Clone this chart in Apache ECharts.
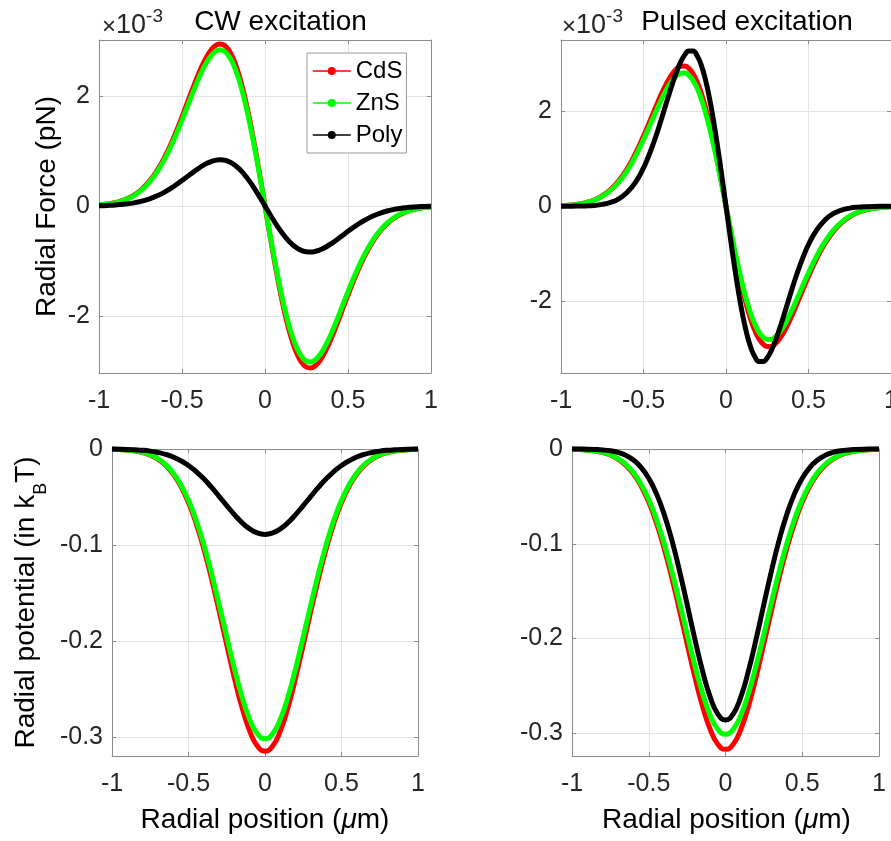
<!DOCTYPE html>
<html>
<head>
<meta charset="utf-8">
<script src="https://cdn.jsdelivr.net/npm/echarts@6/dist/echarts.min.js"></script>
<style>
html,body{margin:0;padding:0;background:#fff;}
#chart{width:891px;height:841px;}
</style>
</head>
<body>
<div id="chart"></div>
<script>
// Radial position (um) for the force curves (finer around the peaks)
const xPosForce = [-1,-0.95,-0.9,-0.85,-0.8,-0.75,-0.7,-0.65,-0.6,-0.55,-0.5,-0.475,-0.45,-0.425,-0.4,-0.375,-0.35,-0.325,-0.3,-0.275,-0.25,-0.225,-0.2,-0.175,-0.15,-0.125,-0.1,-0.075,-0.05,-0.025,0,0.025,0.05,0.075,0.1,0.125,0.15,0.175,0.2,0.225,0.25,0.275,0.3,0.325,0.35,0.375,0.4,0.425,0.45,0.475,0.5,0.55,0.6,0.65,0.7,0.75,0.8,0.85,0.9,0.95,1];
// Radial position (um) for the potential curves
const xPosPot = [-1,-0.95,-0.9,-0.85,-0.8,-0.75,-0.7,-0.65,-0.6,-0.55,-0.5,-0.45,-0.4,-0.35,-0.3,-0.25,-0.2,-0.15,-0.1,-0.05,0,0.05,0.1,0.15,0.2,0.25,0.3,0.35,0.4,0.45,0.5,0.55,0.6,0.65,0.7,0.75,0.8,0.85,0.9,0.95,1];

// CW excitation: radial force (x1e-3 pN)
const cwForceCdS = [0.019,0.035,0.063,0.108,0.179,0.285,0.438,0.646,0.915,1.245,1.621,1.820,2.021,2.218,2.405,2.575,2.721,2.837,2.915,2.949,2.933,2.864,2.738,2.555,2.316,2.023,1.682,1.300,0.885,0.448,0,-0.448,-0.885,-1.300,-1.682,-2.023,-2.316,-2.555,-2.738,-2.864,-2.933,-2.949,-2.915,-2.837,-2.721,-2.575,-2.405,-2.218,-2.021,-1.820,-1.621,-1.245,-0.915,-0.646,-0.438,-0.285,-0.179,-0.108,-0.063,-0.035,-0.019];
const cwForceZnS = [0.018,0.034,0.060,0.104,0.172,0.275,0.421,0.622,0.881,1.198,1.561,1.753,1.946,2.135,2.315,2.479,2.620,2.732,2.806,2.839,2.824,2.757,2.636,2.460,2.229,1.947,1.619,1.251,0.852,0.432,0,-0.432,-0.852,-1.251,-1.619,-1.947,-2.229,-2.460,-2.636,-2.757,-2.824,-2.839,-2.806,-2.732,-2.620,-2.479,-2.315,-2.135,-1.946,-1.753,-1.561,-1.198,-0.881,-0.622,-0.421,-0.275,-0.172,-0.104,-0.060,-0.034,-0.018];
const cwForcePoly = [0.005,0.010,0.018,0.031,0.051,0.081,0.125,0.184,0.261,0.354,0.462,0.518,0.576,0.632,0.685,0.733,0.775,0.808,0.830,0.840,0.835,0.816,0.780,0.728,0.659,0.576,0.479,0.370,0.252,0.128,0,-0.128,-0.252,-0.370,-0.479,-0.576,-0.659,-0.728,-0.780,-0.816,-0.835,-0.840,-0.830,-0.808,-0.775,-0.733,-0.685,-0.632,-0.576,-0.518,-0.462,-0.354,-0.261,-0.184,-0.125,-0.081,-0.051,-0.031,-0.018,-0.010,-0.005];

// Pulsed excitation: radial force (x1e-3 pN)
const puForceCdS = [0.012,0.022,0.042,0.076,0.132,0.219,0.349,0.534,0.783,1.098,1.472,1.674,1.882,2.090,2.292,2.479,2.646,2.783,2.884,2.941,2.946,2.895,2.783,2.610,2.376,2.083,1.737,1.346,0.918,0.466,0,-0.466,-0.918,-1.346,-1.737,-2.083,-2.376,-2.610,-2.783,-2.895,-2.946,-2.941,-2.884,-2.783,-2.646,-2.479,-2.292,-2.090,-1.882,-1.674,-1.472,-1.098,-0.783,-0.534,-0.349,-0.219,-0.132,-0.076,-0.042,-0.022,-0.012];
const puForceZnS = [0.011,0.021,0.040,0.072,0.125,0.208,0.332,0.507,0.743,1.042,1.397,1.589,1.787,1.984,2.175,2.353,2.512,2.642,2.738,2.791,2.796,2.747,2.642,2.477,2.255,1.977,1.649,1.277,0.872,0.442,0,-0.442,-0.872,-1.277,-1.649,-1.977,-2.255,-2.477,-2.642,-2.747,-2.796,-2.791,-2.738,-2.642,-2.512,-2.353,-2.175,-1.984,-1.787,-1.589,-1.397,-1.042,-0.743,-0.507,-0.332,-0.208,-0.125,-0.072,-0.040,-0.021,-0.011];
const puForcePoly = [0.000,0.001,0.003,0.008,0.018,0.039,0.080,0.156,0.287,0.496,0.804,1.001,1.223,1.469,1.736,2.015,2.297,2.569,2.816,3.025,3.178,3.260,3.258,3.160,2.963,2.663,2.267,1.784,1.231,0.628,0,-0.628,-1.231,-1.784,-2.267,-2.663,-2.963,-3.160,-3.258,-3.260,-3.178,-3.025,-2.816,-2.569,-2.297,-2.015,-1.736,-1.469,-1.223,-1.001,-0.804,-0.496,-0.287,-0.156,-0.080,-0.039,-0.018,-0.008,-0.003,-0.001,0.000];

// CW excitation: radial potential (kBT)
const cwPotCdS = [-0.0003,-0.0006,-0.0012,-0.0021,-0.0037,-0.0064,-0.0106,-0.0169,-0.0260,-0.0388,-0.0558,-0.0775,-0.1040,-0.1349,-0.1689,-0.2043,-0.2388,-0.2696,-0.2939,-0.3096,-0.315,-0.3096,-0.2939,-0.2696,-0.2388,-0.2043,-0.1689,-0.1349,-0.1040,-0.0775,-0.0558,-0.0388,-0.0260,-0.0169,-0.0106,-0.0064,-0.0037,-0.0021,-0.0012,-0.0006,-0.0003];
const cwPotZnS = [-0.0003,-0.0006,-0.0011,-0.0020,-0.0036,-0.0061,-0.0101,-0.0162,-0.0250,-0.0372,-0.0535,-0.0743,-0.0997,-0.1293,-0.1619,-0.1959,-0.2289,-0.2584,-0.2818,-0.2968,-0.302,-0.2968,-0.2818,-0.2584,-0.2289,-0.1959,-0.1619,-0.1293,-0.0997,-0.0743,-0.0535,-0.0372,-0.0250,-0.0162,-0.0101,-0.0061,-0.0036,-0.0020,-0.0011,-0.0006,-0.0003];
const cwPotPoly = [-0.0001,-0.0002,-0.0004,-0.0008,-0.0013,-0.0022,-0.0036,-0.0055,-0.0083,-0.0122,-0.0172,-0.0235,-0.0311,-0.0398,-0.0493,-0.0590,-0.0684,-0.0768,-0.0833,-0.0875,-0.089,-0.0875,-0.0833,-0.0768,-0.0684,-0.0590,-0.0493,-0.0398,-0.0311,-0.0235,-0.0172,-0.0122,-0.0083,-0.0055,-0.0036,-0.0022,-0.0013,-0.0008,-0.0004,-0.0002,-0.0001];

// Pulsed excitation: radial potential (kBT)
const puPotCdS = [-0.0003,-0.0006,-0.0012,-0.0021,-0.0038,-0.0064,-0.0107,-0.0170,-0.0262,-0.0390,-0.0561,-0.0780,-0.1047,-0.1357,-0.1700,-0.2056,-0.2403,-0.2713,-0.2958,-0.3116,-0.317,-0.3116,-0.2958,-0.2713,-0.2403,-0.2056,-0.1700,-0.1357,-0.1047,-0.0780,-0.0561,-0.0390,-0.0262,-0.0170,-0.0107,-0.0064,-0.0038,-0.0021,-0.0012,-0.0006,-0.0003];
const puPotZnS = [-0.0003,-0.0006,-0.0011,-0.0020,-0.0036,-0.0061,-0.0101,-0.0161,-0.0249,-0.0371,-0.0533,-0.0741,-0.0994,-0.1289,-0.1614,-0.1953,-0.2282,-0.2576,-0.2809,-0.2958,-0.301,-0.2958,-0.2809,-0.2576,-0.2282,-0.1953,-0.1614,-0.1289,-0.0994,-0.0741,-0.0533,-0.0371,-0.0249,-0.0161,-0.0101,-0.0061,-0.0036,-0.0020,-0.0011,-0.0006,-0.0003];
const puPotPoly = [0,-0.0001,-0.0002,-0.0005,-0.0010,-0.0019,-0.0036,-0.0066,-0.0116,-0.0193,-0.0308,-0.0471,-0.0687,-0.0960,-0.1283,-0.1639,-0.2002,-0.2340,-0.2616,-0.2797,-0.286,-0.2797,-0.2616,-0.2340,-0.2002,-0.1639,-0.1283,-0.0960,-0.0687,-0.0471,-0.0308,-0.0193,-0.0116,-0.0066,-0.0036,-0.0019,-0.0010,-0.0005,-0.0002,-0.0001,0];

// axis ranges [min, max, tick step]
const xRange = [-1, 1, 0.5];
const yRangeCwForce = [-3.04, 3.02, 2];
const yRangePuForce = [-3.5, 3.49, 2];
const yRangeCwPot = [-0.32, 0, 0.1];
const yRangePuPot = [-0.324, 0, 0.1];

const seriesNames = ['CdS', 'ZnS', 'Poly'];
const seriesColors = ['#ff0000', '#00ff00', '#000000'];

const FONT = "'Liberation Sans', Arial, Helvetica, sans-serif";
const FRAME = '#8c8c8c';
const GRIDC = '#e4e4e4';
const TXT = '#262626';

const grids = [
  {left: 99, top: 40, width: 332, height: 333, outerBoundsMode: 'none', containLabel: false},
  {left: 561, top: 40, width: 330, height: 333, outerBoundsMode: 'none', containLabel: false},
  {left: 112, top: 449, width: 306, height: 307, outerBoundsMode: 'none', containLabel: false},
  {left: 572, top: 449, width: 307, height: 307, outerBoundsMode: 'none', containLabel: false}
];
const yRanges = [yRangeCwForce, yRangePuForce, yRangeCwPot, yRangePuPot];
const panelX = [xPosForce, xPosForce, xPosPot, xPosPot];
const panelData = [
  [cwForceCdS, cwForceZnS, cwForcePoly],
  [puForceCdS, puForceZnS, puForcePoly],
  [cwPotCdS, cwPotZnS, cwPotPoly],
  [puPotCdS, puPotZnS, puPotPoly]
];

const xAxes = [], yAxes = [], series = [];
grids.forEach((g, i) => {
  const line = {show: true, onZero: false, lineStyle: {color: FRAME, width: 1}};
  const tick = {show: true, inside: true, length: 4, lineStyle: {color: FRAME, width: 1}};
  xAxes.push({
    gridIndex: i, type: 'value', position: 'bottom',
    min: xRange[0], max: xRange[1], interval: xRange[2],
    axisLine: line, axisTick: tick,
    axisLabel: {show: true, fontSize: 25, color: TXT, fontFamily: FONT, margin: 16},
    splitLine: {show: true, lineStyle: {color: GRIDC, width: 1}}
  });
  xAxes.push({
    gridIndex: i, type: 'value', position: 'top',
    min: xRange[0], max: xRange[1], interval: xRange[2],
    axisLine: line, axisTick: tick, axisLabel: {show: false}, splitLine: {show: false}
  });
  const yr = yRanges[i];
  yAxes.push({
    gridIndex: i, type: 'value', position: 'left',
    min: yr[0], max: yr[1], minInterval: yr[2], maxInterval: yr[2],
    axisLine: line, axisTick: tick,
    axisLabel: {show: true, fontSize: 25, color: TXT, fontFamily: FONT, margin: 9,
      showMinLabel: false, showMaxLabel: i >= 2},
    splitLine: {show: true, lineStyle: {color: GRIDC, width: 1}}
  });
  yAxes.push({
    gridIndex: i, type: 'value', position: 'right',
    min: yr[0], max: yr[1], minInterval: yr[2], maxInterval: yr[2],
    axisLine: line, axisTick: tick, axisLabel: {show: false}, splitLine: {show: false}
  });
  const xs = panelX[i];
  panelData[i].forEach((vals, k) => {
    series.push({
      type: 'line', name: seriesNames[k],
      xAxisIndex: 2 * i, yAxisIndex: 2 * i,
      data: xs.map((x, j) => [x, vals[j]]),
      smooth: true, symbol: 'circle', symbolSize: 6, showSymbol: false, clip: false,
      lineStyle: {color: seriesColors[k], width: 5},
      itemStyle: {color: seriesColors[k]},
      emphasis: {disabled: true},
      z: 3 + k
    });
  });
});

const expRich = {
  a: {fontSize: 27, fontFamily: FONT, fill: TXT, lineHeight: 32, verticalAlign: 'bottom'},
  x: {fontSize: 24, fontFamily: FONT, fill: TXT, lineHeight: 32, verticalAlign: 'bottom'},
  b: {fontSize: 19, fontFamily: FONT, fill: TXT, lineHeight: 16, verticalAlign: 'top'}
};
const posRich = {
  n: {fontSize: 28, fontFamily: FONT, fill: '#000'},
  m: {fontSize: 28, fontFamily: FONT, fill: '#000', fontStyle: 'italic'}
};

const option = {
  animation: false,
  backgroundColor: '#fff',
  grid: grids,
  xAxis: xAxes,
  yAxis: yAxes,
  series: series,
  legend: {
    data: seriesNames,
    orient: 'vertical',
    left: 307, top: 53,
    padding: [6, 4, 6, 5],
    itemGap: 8,
    itemWidth: 38, itemHeight: 10,
    selectedMode: false,
    backgroundColor: '#fff',
    borderColor: '#999', borderWidth: 1, borderRadius: 0,
    lineStyle: {width: 1.5},
    textStyle: {fontSize: 24, color: '#000', fontFamily: FONT, lineHeight: 24, padding: [0, 0, 0, 0]}
  },
  graphic: [
    {type: 'text', x: 280.5, y: 22, silent: true,
      style: {text: 'CW excitation', fontSize: 28, fontFamily: FONT, fill: '#000', align: 'center', verticalAlign: 'middle'}},
    {type: 'text', x: 747, y: 22, silent: true,
      style: {text: 'Pulsed excitation', fontSize: 28, fontFamily: FONT, fill: '#000', align: 'center', verticalAlign: 'middle'}},
    {type: 'text', x: 102, y: 7, silent: true,
      style: {text: '{x|×}{a|10}{b|-3}', align: 'left', verticalAlign: 'top', rich: expRich}},
    {type: 'text', x: 562, y: 7, silent: true,
      style: {text: '{x|×}{a|10}{b|-3}', align: 'left', verticalAlign: 'top', rich: expRich}},
    {type: 'text', x: 47.5, y: 206.5, rotation: Math.PI / 2, silent: true,
      style: {text: 'Radial Force (pN)', fontSize: 28, fontFamily: FONT, fill: '#000', align: 'center', verticalAlign: 'middle'}},
    {type: 'text', x: 31, y: 602.5, rotation: Math.PI / 2, silent: true,
      style: {text: '{n|Radial potential (in k}{s|B}{n|T)}', align: 'center', verticalAlign: 'middle',
        rich: {
          n: {fontSize: 28, fontFamily: FONT, fill: '#000', lineHeight: 30, verticalAlign: 'top'},
          s: {fontSize: 18, fontFamily: FONT, fill: '#000', lineHeight: 38, verticalAlign: 'bottom'}
        }}},
    {type: 'text', x: 265, y: 820, silent: true,
      style: {text: '{n|Radial position (}{m|μ}{n|m)}', align: 'center', verticalAlign: 'middle', rich: posRich}},
    {type: 'text', x: 726.5, y: 820, silent: true,
      style: {text: '{n|Radial position (}{m|μ}{n|m)}', align: 'center', verticalAlign: 'middle', rich: posRich}}
  ]
};

const chart = echarts.init(document.getElementById('chart'), null, {renderer: 'canvas'});
chart.setOption(option);
</script>
</body>
</html>
